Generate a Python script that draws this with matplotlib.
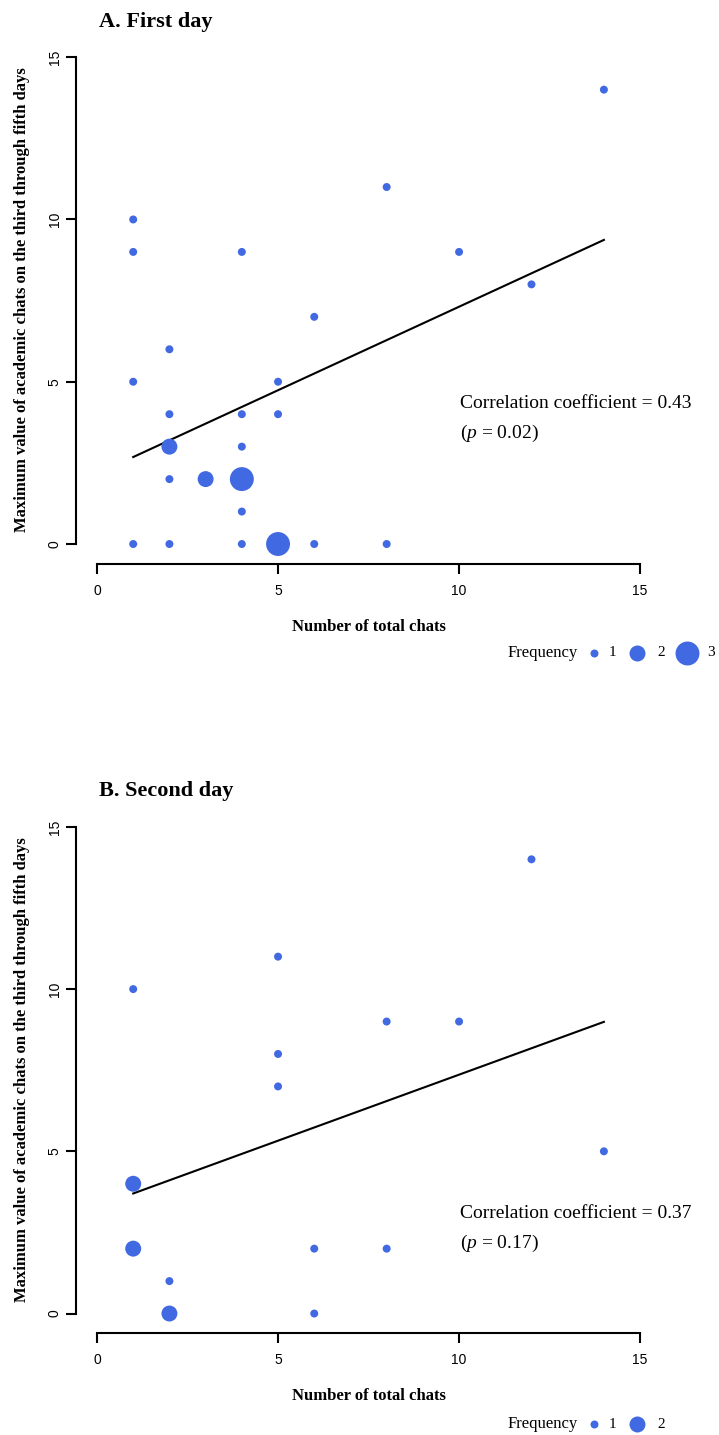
import matplotlib.pyplot as plt
import numpy as np

plt.rcParams['mathtext.fontset'] = 'custom'
plt.rcParams['mathtext.rm'] = 'Liberation Serif'
plt.rcParams['mathtext.it'] = 'Liberation Serif:italic'

W, H = 719, 1435
SERIF = 'Liberation Serif'
SANS = 'Liberation Sans'
BLUE = '#4169E1'

# A. First day: total chats, max academic chats (days 3-5), frequency
a_x = [1, 1, 1, 1, 2, 2, 2, 2, 2, 3, 4, 4, 4, 4, 4, 4, 5, 5, 5, 6, 6, 8, 8, 10, 12, 14]
a_y = [0, 5, 9, 10, 0, 2, 3, 4, 6, 2, 0, 1, 2, 3, 4, 9, 0, 4, 5, 0, 7, 0, 11, 9, 8, 14]
a_freq = [1, 1, 1, 1, 1, 1, 2, 1, 1, 2, 1, 1, 3, 1, 1, 1, 3, 1, 1, 1, 1, 1, 1, 1, 1, 1]
a_fit_x = [1, 14]
a_fit_y = [2.68, 9.37]
a_r, a_p = '0.43', '0.02'

# B. Second day
b_x = [1, 1, 1, 2, 2, 5, 5, 5, 6, 6, 8, 8, 10, 12, 14]
b_y = [10, 4, 2, 1, 0, 11, 8, 7, 2, 0, 9, 2, 9, 14, 5]
b_freq = [1, 2, 2, 1, 2, 1, 1, 1, 1, 1, 1, 1, 1, 1, 1]
b_fit_x = [1, 14]
b_fit_y = [3.70, 8.99]
b_r, b_p = '0.37', '0.17'

ticks = [0, 5, 10, 15]
xlabel = 'Number of total chats'
ylabel = 'Maximum value of academic chats on the third through fifth days'


def px(x, y):
    # pixel position -> figure fraction
    return x / W, 1 - y / H


def msize(f):
    return 33 * np.asarray(f) ** 2


fig = plt.figure(figsize=(W / 100, H / 100), dpi=100)

# full-figure helper axes for the frequency legends
leg_ax = fig.add_axes([0, 0, 1, 1], zorder=-1)
leg_ax.set_xlim(0, 1)
leg_ax.set_ylim(0, 1)
leg_ax.axis('off')


def panel(top, bottom, xlim, ylim, title, title_base, xs, ys, fr, fx, fy,
          r, p, txt_base, xlab_y, ylab_y, leg_y, leg_freqs):
    l, b = px(76, bottom)
    r_, t = px(664, top)
    ax = fig.add_axes([l, b, r_ - l, t - b])
    ax.scatter(xs, ys, s=msize(fr), color=BLUE, linewidths=0, zorder=3)
    ax.plot(fx, fy, color='black', lw=1.5, zorder=2)
    ax.set_xlim(*xlim)
    ax.set_ylim(*ylim)
    for s in ['top', 'right']:
        ax.spines[s].set_visible(False)
    ax.spines['left'].set_bounds(0, 15)
    ax.spines['bottom'].set_bounds(0, 15)
    for s in ['left', 'bottom']:
        ax.spines[s].set_linewidth(1.5)
    ax.set_xticks(ticks)
    ax.set_yticks(ticks)
    ax.tick_params(length=7.2, width=1.5, labelsize=10)
    ax.tick_params(axis='x', pad=7)
    ax.tick_params(axis='y', pad=3)
    for lab in ax.get_xticklabels() + ax.get_yticklabels():
        lab.set_fontfamily(SANS)
    for lab in ax.get_yticklabels():
        lab.set_rotation(90)
        lab.set_va('center')

    fig.text(*px(99, title_base), title, family=SERIF, weight='bold',
             fontsize=16, va='baseline', ha='left')
    fig.text(*px(369, xlab_y), xlabel, family=SERIF, weight='bold',
             fontsize=12, ha='center', va='center')
    fig.text(*px(22, ylab_y), ylabel, family=SERIF, weight='bold',
             fontsize=12, ha='center', va='center', rotation=90)
    fig.text(*px(460, txt_base), 'Correlation coefficient = ' + r,
             family=SERIF, fontsize=14, va='baseline')
    fig.text(*px(460, txt_base + 30), '($\\it{p}$ = ' + p + ')',
             family=SERIF, fontsize=14, va='baseline')

    # frequency legend
    fig.text(*px(508, leg_y), 'Frequency', family=SERIF, fontsize=12,
             ha='left', va='center')
    mx = [594, 637, 687]
    lx = [612, 661, 711]
    for i, f in enumerate(leg_freqs):
        leg_ax.scatter([mx[i] / W], [1 - leg_y / H], s=msize(f), color=BLUE,
                       linewidths=0, clip_on=False)
        fig.text(*px(lx[i], leg_y), str(f), family=SERIF, fontsize=11,
                 ha='center', va='center')
    return ax


panel(40, 564, (-0.58, 15.66), (-0.616, 15.53), 'A. First day', 27,
      a_x, a_y, a_freq, a_fit_x, a_fit_y, a_r, a_p, 408, 627, 300, 653,
      [1, 2, 3])
panel(810, 1333, (-0.58, 15.66), (-0.60, 15.52), 'B. Second day', 796,
      b_x, b_y, b_freq, b_fit_x, b_fit_y, b_r, b_p, 1218, 1396, 1070, 1424,
      [1, 2])

fig.savefig('out.png', dpi=100)
